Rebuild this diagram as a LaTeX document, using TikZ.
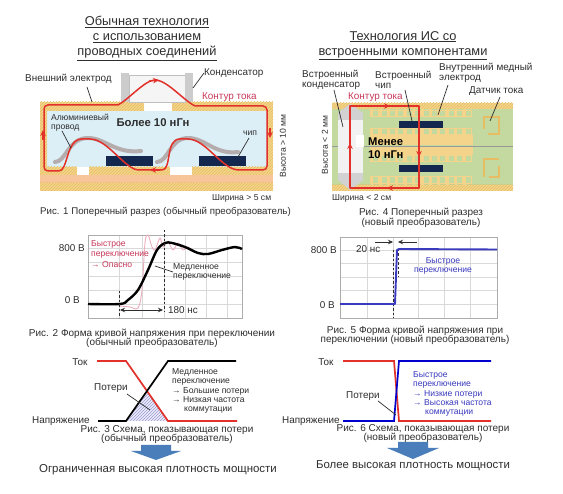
\documentclass[tikz,border=0pt]{standalone}
\usepackage{fontspec}
\setmainfont{Liberation Sans}
\usetikzlibrary{arrows.meta,patterns}
\definecolor{txt}{HTML}{2E2E2E}
\definecolor{gold}{HTML}{F3D48A}
\definecolor{hatchc}{HTML}{E6BD62}
\definecolor{salmon}{HTML}{F8C49A}
\definecolor{icebg}{HTML}{DCEEF6}
\definecolor{pcbg}{HTML}{C3D9A0}
\definecolor{chipc}{HTML}{14274E}
\definecolor{cur}{HTML}{E2302A}
\definecolor{crim}{HTML}{C8385A}
\definecolor{bluel}{HTML}{3A3ABE}
\definecolor{greyw}{HTML}{B5ADAD}
\definecolor{capg}{HTML}{CCCCCC}
\definecolor{arrowb}{HTML}{4A7EBB}
\newcommand{\fs}[1]{\fontsize{#1}{#1}\selectfont}
\tikzset{
  lbl/.style={inner sep=0pt,text=txt,font=\fs{9.9},align=left,anchor=west},
  capt/.style={inner sep=0pt,text=txt,font=\fs{10},align=center},
  titl/.style={inner sep=0pt,text=txt,font=\fs{12.8},align=center},
  smalltxt/.style={inner sep=0pt,text=txt,font=\fs{8.6},align=left,anchor=west},
  leadline/.style={draw=txt,line width=.7pt},
  hatched/.style={pattern=north east lines,pattern color=hatchc},
  redline/.style={draw=cur,line width=1.5pt,line join=round},
  redarrow/.style={draw=cur,line width=1.3pt,-{Stealth[length=6pt,width=5.5pt]}},
  wire/.style={draw=greyw,line width=4pt,line cap=round},
  gridl/.style={draw=gray!30,line width=.4pt},
  frm/.style={draw=gray!65,line width=.7pt},
  dashv/.style={draw=txt,line width=1pt,dash pattern=on 2.5pt off 2pt},
  chipbox/.style={fill=chipc},
  wavel/.style={line width=2.4pt,line join=round}
}
\newcommand{\goldrect}[4]{\fill[gold] (#1,#2) rectangle (#3,#4);\fill[hatched] (#1,#2) rectangle (#3,#4);}
\newcommand{\combrow}[2]{%
  \fill[gold] (370,#1) rectangle (472,#2);
  \foreach \k in {0,...,11}{\fill[pcbg] ({373.2+8.4*\k},{#1+1.3}) rectangle ({378.2+8.4*\k},{#2-1.3});}
}
\begin{document}
\begin{tikzpicture}[x=1pt,y=-1pt]
\useasboundingbox[fill=white] (0,0) rectangle (563,494);

% ---------- titles
\node[titl] (t1) at (147,38.5) {\underline{Обычная технология}\\[2.2pt]\underline{с использованием}\\[2.2pt]\underline{проводных соединений}};
\node[titl] (t2) at (403,45.5) {\underline{Технология ИС со}\\[2.2pt]\underline{встроенными компонентами}};

% ---------- Fig 1
\fill[icebg] (47,111) rectangle (267,167);
\goldrect{40}{102}{144}{111}
\goldrect{172}{102}{273}{111}
\goldrect{40}{111}{47}{167}
\goldrect{267}{111}{273}{167}
\goldrect{40}{167}{77}{175}
\goldrect{89}{167}{170}{175}
\goldrect{192}{167}{273}{175}
\fill[salmon] (40,175) rectangle (273,183);
\goldrect{40}{183}{273}{191}
% capacitor
\fill[gray!8] (129,75) rectangle (185,102);
\draw[gray!50,line width=.5pt] (129,75) rectangle (185,102);
\fill[capg] (121,73) rectangle (129,102);
\fill[capg] (185,73) rectangle (193,102);
% chips
\fill[chipbox] (106,156) rectangle (153,166);
\fill[chipbox] (199,156) rectangle (246,166);
% grey wires
\draw[wire] (55,162) .. controls (66,162) and (68,138) .. (88,138) .. controls (105,138) and (115,154) .. (141,151);
\draw[wire] (157,162) .. controls (168,162) and (170,138) .. (188,138) .. controls (205,138) and (215,155) .. (238,152);
% current loop
\draw[redline,rounded corners=4pt] (118,105) -- (44,105) -- (44,171) -- (55,171)
  .. controls (68,171) and (66,139) .. (86,139)
  .. controls (108,139) and (125,170) .. (143,170) -- (158,170)
  .. controls (172,170) and (165,139) .. (184,139)
  .. controls (206,139) and (222,170) .. (243,170) -- (267,170) -- (267,106) -- (195,106);
\draw[redline] (118,105) .. controls (128,100) and (145,80) .. (155,80) .. controls (167,80) and (183,100) .. (195,106);
\draw[redarrow] (43,140) -- (43,130);
\draw[redarrow] (270,128) -- (270,138);
\draw[redarrow] (149,81) -- (159,80);
\draw[redarrow] (160,170) -- (150,170);

\node[lbl] (ext) at (25,79) {Внешний электрод};
\coordinate (extp) at (92,102);
\draw[leadline] (87,87) -- (extp);
\node[lbl] (con) at (204,73) {Конденсатор};
\coordinate (conp) at (193,88);
\draw[leadline] (con.west) -- (conp);
\node[lbl,text=crim] (loop1) at (202,97) {Контур тока};
\node[smalltxt,align=left] (al) at (51,123) {Алюминиевый\\[.6pt]провод};
\coordinate (alp) at (71,148);
\draw[leadline] (62,131) -- (alp);
\node[inner sep=0pt,font=\fs{11.3}\bfseries,text=txt] (more) at (153,123) {Более 10 нГн};
\node[smalltxt] (chip1) at (243,133) {чип};
\coordinate (chip1p) at (238,157);
\draw[leadline] (249,138) -- (chip1p);
\node[smalltxt,rotate=90,anchor=center] (h1) at (283,146) {Высота > 10 мм};
\node[smalltxt] (w1) at (212,198) {Ширина > 5 см};
\node[capt,anchor=west,font=\fs{9.7}] (c1) at (40,212) {Рис. 1 Поперечный разрез (обычный преобразователь)};

% ---------- Fig 4
\fill[pcbg] (332,103) rectangle (513,191);
\goldrect{332}{103}{513}{109}
\goldrect{332}{185}{513}{191}
\combrow{110}{117}
\combrow{128}{135}
\combrow{155}{162}
\combrow{176}{184}
\fill[gold] (370,135) rectangle (473,145);
\fill[gold] (370,147) rectangle (473,155);
\draw[gray!80,line width=.5pt] (332,146) -- (513,146);
\foreach \k in {0,...,11}{\fill[gold] ({370.5+8.4*\k},109) rectangle ({373.2+8.4*\k},110);\fill[gold] ({370.5+8.4*\k},184) rectangle ({373.2+8.4*\k},185);}
% current sensors
\draw[hatchc,line width=2.2pt] (484,129) -- (484,117) -- (499,117) -- (499,134) -- (488,134);
\draw[hatchc,line width=2.2pt] (484,177) -- (484,159) -- (499,159);
\draw[hatchc,line width=2.2pt] (499,166) -- (499,177) -- (489,177);
% embedded capacitor
\fill[gray!35] (338,113) -- (350,104) -- (351,104) -- (363,113) -- (363,120) -- (338,120) -- cycle;
\fill[gray!35] (338,173) -- (363,173) -- (363,180) -- (351,190) -- (350,190) -- (338,180) -- cycle;
\fill[gray!10] (338,120) rectangle (363,173);
\fill[white] (356,135) rectangle (364,147);
% chips
\fill[chipbox] (399,121) rectangle (443,128);
\fill[chipbox] (399,165) rectangle (443,172);
% loop
\draw[redline] (350,106) rectangle (419,188);
\draw[redarrow] (380,106) -- (390,106);
\draw[redarrow] (419,147) -- (419,157);
\draw[redarrow] (397,188) -- (387,188);
\draw[redarrow] (350,153) -- (350,143);

\node[lbl] (bcap) at (302,80) {Встроенный\\[.4pt]конденсатор};
\coordinate (bcapp) at (343,127);
\draw[leadline] (334,90) -- (bcapp);
\node[lbl,text=crim] (loop2) at (348,97) {Контур тока};
\node[lbl] (bchip) at (375,80) {Встроенный\\[.4pt]чип};
\coordinate (bchipp) at (412,121);
\draw[leadline] (405,90) -- (bchipp);
\node[lbl] (cu) at (439,73) {Внутренний медный\\[.4pt]электрод};
\coordinate (cup) at (438,115);
\draw[leadline] (448,85) -- (cup);
\node[lbl] (sens) at (469,91) {Датчик тока};
\coordinate (sensp) at (490,121);
\draw[leadline] (500,97) -- (sensp);
\node[smalltxt,rotate=90,anchor=center] (h2) at (325,145) {Высота < 2 мм};
\node[smalltxt] (w2) at (332,198) {Ширина < 2 см};
\node[inner sep=0pt,font=\fs{11.2}\bfseries,text=black,align=left,anchor=west] (less) at (368,148) {Менее\\[1.5pt]10 нГн};
\node[capt] (c4) at (421,218) {Рис. 4 Поперечный разрез\\[.4pt](новый преобразователь)};

% ---------- Fig 2
\foreach \x in {119,142,164,185,206,227}{\draw[gridl] (\x,235) -- (\x,318);}
\foreach \y in {248,262,276,290,304}{\draw[gridl] (88,\y) -- (242,\y);}
\draw[frm] (88,235) rectangle (242,318);
\draw[crim!40,line width=.9pt] plot[smooth,tension=.55] coordinates {(120,306) (130,307) (138,308) (142,290) (145,243) (148,235) (152,247) (155,250) (160,238) (163,247) (168,242) (173,250) (178,243) (183,250) (188,247) (195,252) (208,254)};
\draw[black,wavel] plot[smooth,tension=.55] coordinates {(88,304) (120,304) (128,300) (138,290) (148,270) (157,250) (165,243) (172,243) (185,247) (198,253) (208,254) (222,250) (235,247) (242,249)};
\draw[dashv] (119.5,291) -- (119.5,318);
\draw[dashv] (164,230) -- (164,312);
\node[lbl,anchor=east] (v800a) at (85,248) {800 В};
\node[lbl,anchor=east] (v0a) at (80,300) {0 В};
\node[smalltxt,text=crim] (fast1) at (91,254) {Быстрое\\[1.6pt]переключение\\[1.6pt]→ Опасно};
\node[smalltxt] (slow) at (173,272) {Медленное\\[.4pt]переключение};
\coordinate (slowp) at (155,266);
\draw[leadline] (slow.west) -- (slowp);
\node[lbl] (t180) at (168,310) {180 нс};
\coordinate (ta) at (120,310);
\coordinate (tb) at (163,310);
\draw[txt,line width=.8pt,{Stealth[length=5pt,width=4.5pt]}-{Stealth[length=5pt,width=4.5pt]}] (ta) -- (tb);
\node[capt] (c2) at (152,338.5) {Рис. 2 Форма кривой напряжения при переключении\\[-1.4pt](обычный преобразователь)};

% ---------- Fig 5
\foreach \x in {367,393,418,444,470}{\draw[gridl] (\x,237) -- (\x,318);}
\foreach \y in {250,263,277,290,304}{\draw[gridl] (340,\y) -- (497,\y);}
\draw[frm] (340,237) rectangle (497,318);
\draw[dashv] (393,250) -- (393,318);
\draw[dashv] (398,249) -- (398,277);
\draw[bluel,line width=1.9pt,line join=round] (340,304) -- (393,304) -- (395,304) -- (397,250) -- (399,249) -- (497,249.5);
\coordinate (a20l) at (375,242);
\coordinate (a20lb) at (393,242);
\coordinate (a20r) at (417,242);
\coordinate (a20rb) at (398,242);
\draw[txt,line width=.7pt,-{Stealth[length=5pt,width=4.5pt]}] (a20l) -- (a20lb);
\draw[txt,line width=.7pt,-{Stealth[length=5pt,width=4.5pt]}] (a20r) -- (a20rb);
\node[lbl,anchor=east] (v800b) at (337,250) {800 В};
\node[lbl,anchor=east] (v0b) at (335,305) {0 В};
\node[lbl] (t20) at (356,249) {20 нс};
\node[smalltxt,text=bluel,align=center,anchor=center] (fast2) at (443,265.5) {Быстрое\\[.4pt]переключение};
\node[capt] (c5) at (415,335.5) {Рис. 5 Форма кривой напряжения при\\[-1.4pt]переключении (новый преобразователь)};

% ---------- Fig 3
\fill[blue!8] (126,421) -- (168,421) -- (147,392) -- cycle;
\fill[pattern=north east lines,pattern color=blue!30!gray!60] (126,421) -- (168,421) -- (147,392) -- cycle;
\draw[cur,line width=1.7pt] (97,361) -- (126,361) -- (168,421) -- (237,421);
\draw[black,line width=1.7pt] (98,421) -- (126,421) -- (168,361) -- (236,361);
\node[lbl,anchor=center] (tok1) at (80,362) {Ток};
\node[lbl] (los1) at (94,388) {Потери};
\coordinate (los1p) at (150,410);
\draw[leadline] (127,394) -- (los1p);
\node[lbl] (nap1) at (32,421) {Напряжение};
\node[smalltxt] (sl3) at (172,391) {Медленное\\[.4pt]переключение\\[1.2pt]→ Большие потери\\[1.2pt]→ Низкая частота\\[.4pt]\hspace*{12pt}коммутации};
\node[capt] (c3) at (167,434.5) {Рис. 3 Схема, показывающая потери\\[-1.4pt](обычный преобразователь)};
\fill[arrowb] (141,445) -- (171,445) -- (171,451) -- (181,451) -- (156,460) -- (131,451) -- (141,451) -- cycle;
\node[capt,font=\fs{11.45}] (res1) at (158,470) {Ограниченная высокая плотность мощности};

% ---------- Fig 6
\draw[cur,line width=1.7pt] (343,361) -- (394,361) -- (399,421) -- (491,421);
\draw[blue!80!black,line width=1.7pt] (343,421) -- (394,421) -- (399,361) -- (491,361);
\node[lbl,anchor=center] (tok2) at (326,362) {Ток};
\node[lbl] (los2) at (346,396) {Потери};
\coordinate (los2p) at (396,415);
\draw[leadline] (378,401) -- (los2p);
\node[lbl] (nap2) at (282,421) {Напряжение};
\node[smalltxt,text=bluel] (fs6) at (413,394) {Быстрое\\[.4pt]переключение\\[1.2pt]→ Низкие потери\\[1.2pt]→ Высокая частота\\[.4pt]\hspace*{12pt}коммутации};
\node[capt] (c6) at (423,433.5) {Рис. 6 Схема, показывающая потери\\[-1.4pt](новый преобразователь)};
\fill[arrowb] (398,442) -- (428,442) -- (428,448) -- (439,448) -- (413,459) -- (387,448) -- (398,448) -- cycle;
\node[capt,font=\fs{11.4}] (res2) at (413,466) {Более высокая плотность мощности};
\end{tikzpicture}
\end{document}
